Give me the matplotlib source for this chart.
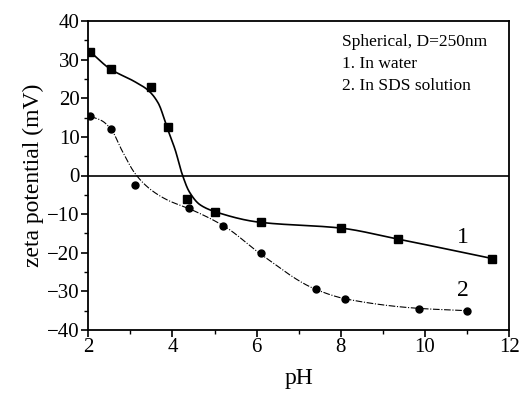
import numpy as np
import matplotlib
matplotlib.use("Agg")
import matplotlib.pyplot as plt
from matplotlib.ticker import MultipleLocator

# Measured points
ph_water = [2.05, 2.55, 3.5, 3.9, 4.35, 5.0, 6.1, 8.0, 9.35, 11.6]
zeta_water = [32.0, 27.5, 23.0, 12.5, -6.0, -9.5, -12.0, -13.5, -16.5, -21.5]
ph_sds = [2.05, 2.55, 3.1, 4.4, 5.2, 6.1, 7.4, 8.1, 9.85, 11.0]
zeta_sds = [15.5, 12.0, -2.5, -8.5, -13.0, -20.0, -29.5, -32.0, -34.5, -35.0]

# Guide curves
fit_ph_water = [2.05, 2.52, 3.12, 3.43, 3.67, 3.87, 4.07, 4.23, 4.4, 4.66, 5.05, 6.07, 7.99, 9.33, 11.6]
fit_zeta_water = [32.0, 27.6, 24.2, 22.0, 18.6, 12.5, 6.5, 0.4, -4.2, -7.6, -9.5, -12.1, -13.6, -16.4, -21.5]
fit_ph_sds = [2.05, 2.32, 2.56, 2.8, 3.12, 3.49, 3.91, 4.4, 5.27, 6.09, 7.39, 8.14, 9.85, 11.0]
fit_zeta_sds = [15.3, 14.2, 11.7, 6.5, 0.4, -3.7, -6.5, -8.6, -13.4, -20.3, -29.4, -32.0, -34.4, -35.0]

x_ticks = [2, 4, 6, 8, 10, 12]
y_ticks = [-40, -30, -20, -10, 0, 10, 20, 30, 40]


def pchip(x, y, xs):
    x = np.asarray(x, float); y = np.asarray(y, float)
    h = np.diff(x); d = np.diff(y) / h
    n = len(x); m = np.zeros(n)
    for k in range(1, n - 1):
        if d[k - 1] * d[k] > 0:
            w1 = 2 * h[k] + h[k - 1]; w2 = h[k] + 2 * h[k - 1]
            m[k] = (w1 + w2) / (w1 / d[k - 1] + w2 / d[k])
    m[0] = d[0]; m[-1] = d[-1]
    idx = np.clip(np.searchsorted(x, xs) - 1, 0, n - 2)
    t = (xs - x[idx]) / h[idx]
    h00 = 2 * t**3 - 3 * t**2 + 1; h10 = t**3 - 2 * t**2 + t
    h01 = -2 * t**3 + 3 * t**2; h11 = t**3 - t**2
    return h00 * y[idx] + h10 * h[idx] * m[idx] + h01 * y[idx + 1] + h11 * h[idx] * m[idx + 1]


plt.rcParams['font.family'] = ['Liberation Serif', 'DejaVu Serif']
fig = plt.figure(figsize=(5.19, 4.0), dpi=100)
ax = fig.add_axes([0.170, 0.175, 0.811, 0.7725])

xs1 = np.linspace(fit_ph_water[0], fit_ph_water[-1], 500)
ax.plot(xs1, pchip(fit_ph_water, fit_zeta_water, xs1), color='black', lw=1.2)
ax.plot(ph_water, zeta_water, 's', color='black', ms=5.5)

xs2 = np.linspace(fit_ph_sds[0], fit_ph_sds[-1], 500)
ax.plot(xs2, pchip(fit_ph_sds, fit_zeta_sds, xs2), color='black', lw=0.8,
        dashes=(6, 1.5, 1, 1.5))
ax.plot(ph_sds, zeta_sds, 'o', color='black', ms=5)

ax.axhline(0, color='black', lw=1.2)

ax.set_xlim(2, 12)
ax.set_ylim(-40, 40)
ax.set_xticks(x_ticks)
ax.set_yticks(y_ticks)
ax.xaxis.set_minor_locator(MultipleLocator(1))
ax.yaxis.set_minor_locator(MultipleLocator(5))
ax.tick_params(which='major', direction='out', length=5, width=1.2, labelsize=15, pad=1)
ax.tick_params(which='minor', direction='out', length=3, width=1)
for s in ax.spines.values():
    s.set_linewidth(1.3)

ax.set_xlabel('pH', fontsize=17, labelpad=8)
ax.set_ylabel('zeta potential (mV)', fontsize=17, labelpad=2)

ax.text(8.03, 34.5, 'Spherical, D=250nm', fontsize=12.5, va='center')
ax.text(8.03, 28.9, '1. In water', fontsize=12.5, va='center')
ax.text(8.03, 23.2, '2. In SDS solution', fontsize=12.5, va='center')
ax.text(10.75, -16.0, '1', fontsize=17, va='center')
ax.text(10.75, -29.8, '2', fontsize=17, va='center')

fig.savefig('out.png', dpi=100)
